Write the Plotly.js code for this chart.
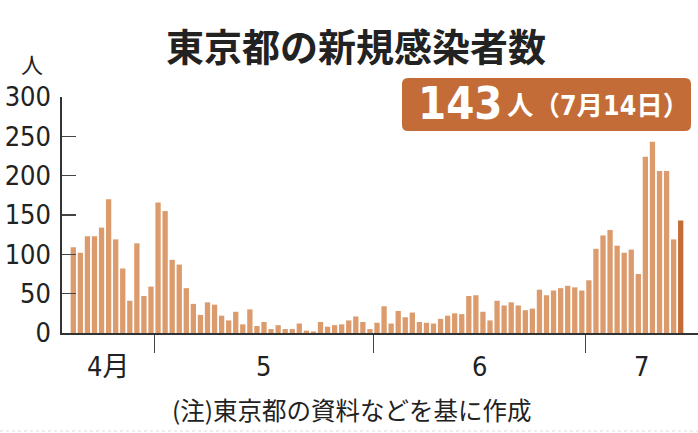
<!DOCTYPE html>
<html>
<head>
<meta charset="utf-8">
<script src="https://cdn.plot.ly/plotly-3.0.1.min.js"></script>
<style>html,body{margin:0;padding:0;background:#fff;}#chart{width:698px;height:433px;}</style>
</head>
<body>
<div id="chart"></div>
<script>
// Daily new cases in Tokyo
const aprilStartDay = 19;
const april = [109,102,123,123,134,170,119,82,41,114,47,59];
const may = [166,155,93,87,57,37,23,39,36,22,16,27,11,30,9,14,5,10,5,5,12,3,2,14,8,10,11,16,21,14,5];
const june = [13,34,12,28,20,26,14,13,12,18,22,25,24,47,48,27,16,41,35,39,35,29,31,55,48,54,57,60,58,54];
const july = [67,107,124,131,111,102,106,75,224,243,206,206,119,143];

const monthLabels = ['4月', '5', '6', '7'];
const yTicks = [0, 50, 100, 150, 200, 250, 300];
const titleText = '東京都の新規感染者数';
const unitText = '人';
const noteText = '(注)東京都の資料などを基に作成';
const badgeNumber = '143';
const badgeRest = '人（7月14日）';

const pad = n => String(n).padStart(2, '0');
const dates = [], values = [];
[[4, april, aprilStartDay], [5, may, 1], [6, june, 1], [7, july, 1]].forEach(([m, arr, start]) => {
  arr.forEach((v, i) => { dates.push(`2020-${pad(m)}-${pad(start + i)}`); values.push(v); });
});

const LIGHT = 'rgb(219,155,108)';
const DARK = 'rgb(196,108,56)';
const colors = values.map((v, i) => i === values.length - 1 ? DARK : LIGHT);

const xRange = ['2020-04-17 09:36', '2020-07-16 10:48'];
const bounds = ['2020-04-30 12:00', '2020-05-31 12:00', '2020-06-30 12:00'];
const edges = [xRange[0], ...bounds, xRange[1]];
const mid = (a, b) => {
  const ta = new Date(a.replace(' ', 'T') + 'Z').getTime();
  const tb = new Date(b.replace(' ', 'T') + 'Z').getTime();
  return new Date((ta + tb) / 2).toISOString().replace('T', ' ').slice(0, 19);
};

const NUM = "'Liberation Sans Narrow', 'DejaVu Sans Condensed', 'Noto Sans CJK JP', sans-serif";
const JP = "'Noto Sans CJK JP', sans-serif";

const W = 698, H = 433, L = 62, R = 0, T = 97, B = 100;
const pw = W - L - R, ph = H - T - B;
const px = x => (x - L) / pw;
const py = y => 1 - (y - T) / ph;

// rounded badge
const bx0 = px(402), bx1 = px(691), by0 = py(78), by1 = py(131);
const rx = 6 / pw, ry = 6 / ph;
const badgePath = `M ${bx0+rx},${by0} L ${bx1-rx},${by0} Q ${bx1},${by0} ${bx1},${by0-ry} L ${bx1},${by1+ry} Q ${bx1},${by1} ${bx1-rx},${by1} L ${bx0+rx},${by1} Q ${bx0},${by1} ${bx0},${by1+ry} L ${bx0},${by0-ry} Q ${bx0},${by0} ${bx0+rx},${by0} Z`;

const annotations = monthLabels.map((t, i) => ({
  text: t, x: mid(edges[i], edges[i + 1]), xref: 'x', y: py(366), yref: 'paper',
  xanchor: 'center', yanchor: 'middle', showarrow: false,
  font: {family: NUM, size: 27, color: '#222'}
}));
annotations.push(
  {text: unitText, x: px(32), y: py(63), xref: 'paper', yref: 'paper', xanchor: 'center', yanchor: 'middle',
   showarrow: false, font: {family: JP, size: 22, color: '#222'}},
  {text: noteText, x: px(352), y: py(409), xref: 'paper', yref: 'paper', xanchor: 'center', yanchor: 'middle',
   showarrow: false, font: {family: JP, size: 24.5, color: '#222'}},
  {text: '<b>' + badgeNumber + '</b>', x: px(416), y: py(103), xref: 'paper', yref: 'paper', xanchor: 'left', yanchor: 'middle',
   showarrow: false, font: {family: NUM, size: 45, color: '#fff'}},
  {text: '<b>' + badgeRest + '</b>', x: px(505), y: py(105), xref: 'paper', yref: 'paper', xanchor: 'left', yanchor: 'middle',
   showarrow: false, font: {family: NUM, size: 26.5, color: '#fff'}}
);

const data = [{
  type: 'bar', x: dates, y: values,
  marker: {color: colors, line: {width: 0}},
  hoverinfo: 'skip'
}];

const layout = {
  width: W, height: H,
  margin: {l: L, r: R, t: T, b: B, pad: 0},
  paper_bgcolor: '#fff', plot_bgcolor: '#fff',
  showlegend: false,
  bargap: 0.25,
  title: {text: '<b>' + titleText + '</b>', x: 356 / W, xref: 'container', xanchor: 'center',
          y: 1 - 48 / H, yref: 'container', yanchor: 'middle',
          font: {family: JP, size: 38, color: '#222'}},
  xaxis: {
    type: 'date', range: xRange, showgrid: false, zeroline: false,
    showline: true, linecolor: '#333', linewidth: 1.6,
    tickmode: 'array', tickvals: bounds, ticktext: bounds.map(() => ''),
    ticks: 'outside', ticklen: 18, tickwidth: 1.3, tickcolor: '#444',
    showticklabels: false, fixedrange: true
  },
  yaxis: {
    range: [0, 300], showgrid: false, zeroline: false,
    showline: true, linecolor: '#333', linewidth: 1.6,
    tickmode: 'array', tickvals: yTicks, ticktext: yTicks.map(String),
    ticks: 'inside', ticklen: 14, tickwidth: 1.3, tickcolor: '#444',
    ticklabelstandoff: 4,
    tickfont: {family: NUM, size: 27, color: '#222'}, fixedrange: true
  },
  shapes: [
    {type: 'path', path: badgePath, xref: 'paper', yref: 'paper', fillcolor: DARK, line: {width: 0}, layer: 'above'},
    {type: 'line', xref: 'paper', yref: 'paper', x0: 0 - L / pw, x1: 1, y0: py(431), y1: py(431),
     line: {color: '#ddd', width: 1, dash: 'dot'}}
  ],
  annotations: annotations
};

Plotly.newPlot('chart', data, layout, {staticPlot: true, displayModeBar: false});
</script>
</body>
</html>
